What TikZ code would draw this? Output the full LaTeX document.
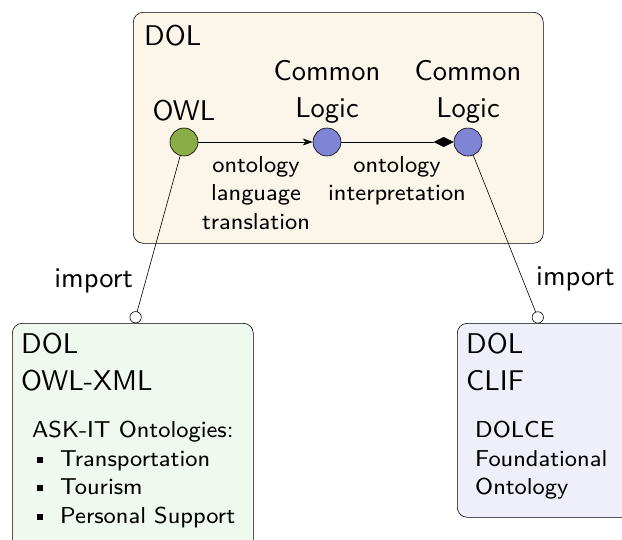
\documentclass[tikz,border=0pt]{standalone}
\usepackage{fontspec}
\usetikzlibrary{arrows.meta}
\newfontfamily\lmssten{lmsans10-regular.otf}
\newfontfamily\lmsseight{lmsans8-regular.otf}
\definecolor{creamfill}{HTML}{FCF6EA}
\definecolor{greenbox}{HTML}{EFF9EF}
\definecolor{bluebox}{HTML}{EFEFF9}
\definecolor{owlgreen}{HTML}{8AAD48}
\definecolor{clblue}{HTML}{7F84D4}
\newcommand{\sqbul}{\makebox[28pt][l]{\hspace{5pt}\rule[3.5pt]{6pt}{6pt}}}
\begin{document}
\begin{tikzpicture}[x=1pt,y=-1pt,
  bigtext/.style={font=\lmssten\fontsize{28.5}{37}\selectfont, inner sep=0pt},
  smalltext/.style={font=\lmsseight\fontsize{23}{28.5}\selectfont, inner sep=0pt},
  container/.style={draw=black, line width=0.6pt, rounded corners=10pt, anchor=north west, inner sep=0pt},
  langdot/.style={circle, draw=black, line width=0.6pt, minimum size=28pt, inner sep=0pt},
  conn/.style={draw=black, line width=0.6pt},
  importtip/.style={-{Circle[open, fill=white, length=12pt, width=12pt]}}
]
\useasboundingbox (0,0) rectangle (622,539);
% containers
\node[container, fill=creamfill, minimum width=410pt, minimum height=231pt] (dolbox) at (133,12) {};
\node[container, fill=greenbox, minimum width=241pt, minimum height=240pt] (owlbox) at (12,323) {};
\node[container, fill=bluebox, minimum width=190pt, minimum height=194pt] (clifbox) at (457,323) {};
% top box content
\node[bigtext, anchor=north west] (dollabel) at (144,25) {DOL};
\node[langdot, fill=owlgreen] (owl) at (184,142) {};
\node[langdot, fill=clblue] (cla) at (327,142) {};
\node[langdot, fill=clblue] (clb) at (468,142) {};
\node[bigtext, anchor=base] (owllabel) at (184,120) {OWL};
\node[bigtext, anchor=north, align=center] (clalabel) at (327,60) {Common\\Logic};
\node[bigtext, anchor=north, align=center] (clblabel) at (468,60) {Common\\Logic};
\draw[conn, -{Stealth[length=10pt, width=7pt, inset=3pt]}] (owl) -- (cla);
\draw[conn, -{Diamond[length=20pt, width=10pt]}] (cla) -- (clb);
\node[smalltext, anchor=north, align=center] (translbl) at (256,156) {ontology\\language\\translation};
\node[smalltext, anchor=north, align=center] (interlbl) at (397,156) {ontology\\interpretation};
% imports
\coordinate (owlimp) at (134,323);
\coordinate (clifimp) at (540,323);
\draw[conn, importtip] (owl) -- (owlimp);
\draw[conn, importtip] (clb) -- (clifimp);
\node[bigtext, anchor=base east] (imp1) at (133,287) {import};
\node[bigtext, anchor=base west] (imp2) at (536,285) {import};
% bottom left
\node[bigtext, anchor=north west, align=left] (owlxml) at (21,333) {DOL\\OWL-XML};
\node[smalltext, anchor=north west, align=left] (askit) at (32,421) {ASK-IT Ontologies:\\\sqbul Transportation\\\sqbul Tourism\\\sqbul Personal Support};
% bottom right
\node[bigtext, anchor=north west, align=left] (clif) at (466,333) {DOL\\CLIF};
\node[smalltext, anchor=north west, align=left] (dolce) at (475,421) {DOLCE\\Foundational\\Ontology};
\end{tikzpicture}
\end{document}
